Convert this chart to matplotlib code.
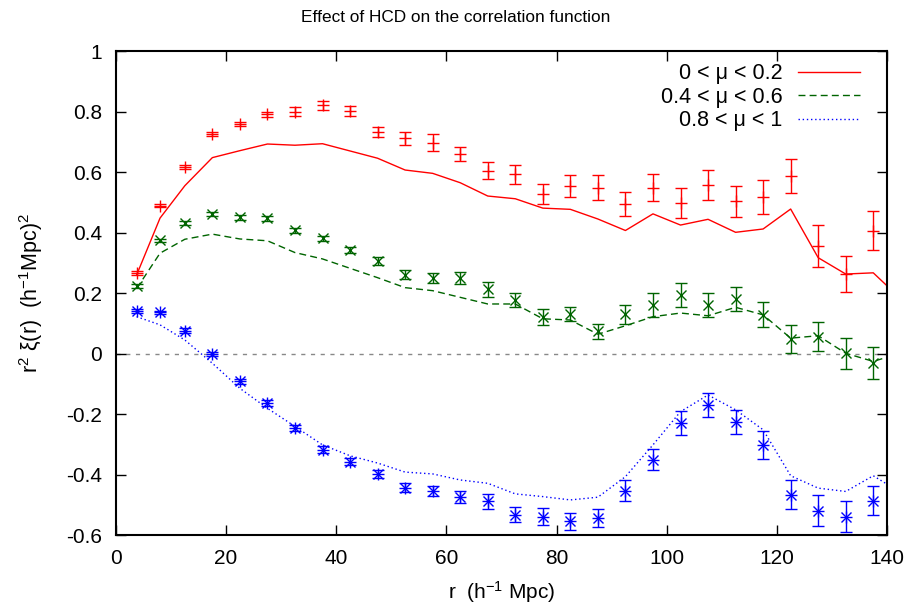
import matplotlib
matplotlib.use("Agg")
import matplotlib.pyplot as plt
import numpy as np

plt.rcParams['font.family'] = ['Liberation Sans', 'DejaVu Sans']
plt.rcParams['mathtext.fontset'] = 'custom'
plt.rcParams['mathtext.rm'] = 'Liberation Sans'
plt.rcParams['mathtext.it'] = 'Liberation Sans'

r_pts = [3.75, 8, 12.5, 17.5, 22.5, 27.5, 32.5, 37.5, 42.5, 47.5, 52.5, 57.5, 62.5, 67.5,
         72.5, 77.5, 82.5, 87.5, 92.5, 97.5, 102.5, 107.5, 112.5, 117.5, 122.5, 127.5, 132.5, 137.5]
r_model = r_pts + [142.5]

# 0 < mu < 0.2
red_y = [0.267, 0.489, 0.617, 0.726, 0.760, 0.791, 0.800, 0.821, 0.801, 0.732, 0.712, 0.698,
         0.659, 0.605, 0.593, 0.529, 0.555, 0.549, 0.494, 0.549, 0.499, 0.558, 0.503, 0.519,
         0.586, 0.356, 0.262, 0.406]
red_err = [0.006, 0.005, 0.006, 0.007, 0.007, 0.008, 0.015, 0.015, 0.017, 0.017, 0.022, 0.027,
           0.023, 0.029, 0.031, 0.033, 0.036, 0.042, 0.039, 0.045, 0.05, 0.05, 0.051, 0.056,
           0.056, 0.069, 0.06, 0.065]
red_model = [0.26, 0.448, 0.555, 0.648, 0.671, 0.693, 0.689, 0.694, 0.670, 0.646, 0.607, 0.596,
             0.565, 0.521, 0.512, 0.481, 0.477, 0.445, 0.407, 0.462, 0.425, 0.444, 0.401, 0.412,
             0.478, 0.317, 0.263, 0.267, 0.181]

# 0.4 < mu < 0.6
green_y = [0.224, 0.374, 0.431, 0.461, 0.450, 0.448, 0.407, 0.381, 0.342, 0.306, 0.260, 0.249,
           0.249, 0.213, 0.178, 0.120, 0.131, 0.073, 0.130, 0.161, 0.194, 0.161, 0.180, 0.128,
           0.048, 0.056, 0.001, -0.030]
green_err = [0.006, 0.006, 0.006, 0.007, 0.007, 0.008, 0.009, 0.009, 0.01, 0.012, 0.015, 0.017,
             0.02, 0.025, 0.023, 0.026, 0.024, 0.026, 0.031, 0.039, 0.041, 0.039, 0.04, 0.041,
             0.046, 0.047, 0.051, 0.053]
green_model = [0.215, 0.332, 0.378, 0.395, 0.379, 0.373, 0.334, 0.313, 0.282, 0.251, 0.218, 0.208,
               0.186, 0.164, 0.164, 0.115, 0.111, 0.064, 0.092, 0.122, 0.134, 0.125, 0.153, 0.128,
               0.051, 0.059, 0.001, -0.026, 0.002]

# 0.8 < mu < 1
blue_y = [0.141, 0.136, 0.076, -0.002, -0.092, -0.164, -0.245, -0.318, -0.357, -0.398, -0.443,
          -0.454, -0.473, -0.489, -0.533, -0.539, -0.555, -0.544, -0.453, -0.351, -0.230, -0.170,
          -0.225, -0.302, -0.467, -0.519, -0.539, -0.486]
blue_err = [0.006, 0.006, 0.007, 0.007, 0.008, 0.009, 0.01, 0.011, 0.012, 0.013, 0.015, 0.017,
            0.02, 0.026, 0.024, 0.028, 0.029, 0.031, 0.036, 0.034, 0.039, 0.04, 0.04, 0.047,
            0.048, 0.051, 0.051, 0.047]
blue_model = [0.122, 0.095, 0.045, -0.032, -0.115, -0.181, -0.241, -0.302, -0.338, -0.362, -0.392,
              -0.398, -0.418, -0.429, -0.464, -0.473, -0.484, -0.475, -0.407, -0.302, -0.192,
              -0.137, -0.186, -0.252, -0.404, -0.445, -0.456, -0.404, -0.46]

labels = ["0 < \u03bc < 0.2", "0.4 < \u03bc < 0.6", "0.8 < \u03bc < 1"]
xticks = [0, 20, 40, 60, 80, 100, 120, 140]
yticks = [-0.6, -0.4, -0.2, 0, 0.2, 0.4, 0.6, 0.8, 1]

RED = '#ff0000'
GREEN = '#006400'
BLUE = '#0000ff'

fig = plt.figure(figsize=(9.11, 6.05), dpi=100)
ax = fig.add_axes([0.1273, 0.1157, 0.8464, 0.7997])

ax.axhline(0, color='#888888', lw=1.0, ls=(0, (3, 4)), zorder=1)

ax.plot(r_model, red_model, color=RED, lw=1.0, ls='-', label=labels[0])
ax.plot(r_model, green_model, color=GREEN, lw=1.0, ls=(0, (5, 3)), label=labels[1])
ax.plot(r_model, blue_model, color=BLUE, lw=1.0, ls=(0, (1, 2)), label=labels[2])

eb = dict(lw=1.0, capsize=4.5, capthick=1.0, ls='none', elinewidth=1.0, markersize=8,
          markeredgewidth=1.0)
ax.errorbar(r_pts, red_y, yerr=red_err, color=RED, marker='+', **eb)
ax.errorbar(r_pts, green_y, yerr=green_err, color=GREEN, marker='x', markersize=7,
            lw=1.0, capsize=4.5, capthick=1.0, ls='none', elinewidth=1.0, markeredgewidth=1.0)
ax.errorbar(r_pts, blue_y, yerr=blue_err, color=BLUE, marker='+', **eb)
ax.plot(r_pts, blue_y, color=BLUE, marker='x', ls='none', markersize=6.5, markeredgewidth=1.0)

ax.set_xlim(0, 140)
ax.set_ylim(-0.6, 1.0)
ax.set_xticks(xticks)
ax.set_xticklabels([str(t) for t in xticks])
ax.set_yticks(yticks)
ax.set_yticklabels([('%g' % t) for t in yticks])
ax.tick_params(direction='in', length=7, width=1.0, top=True, right=True, labelsize=15)
ax.tick_params(axis='x', pad=10)
ax.tick_params(axis='y', pad=10)
for s in ax.spines.values():
    s.set_linewidth(1.5)

ax.set_xlabel("r  (h$^{-1}$ Mpc)", fontsize=15, labelpad=8)
ax.set_ylabel("r$^{2}$ \u03be(r)  (h$^{-1}$Mpc)$^{2}$", fontsize=15.5, labelpad=15)
fig.suptitle("Effect of HCD on the correlation function", fontsize=12.4, x=0.5, y=0.971,
             va='center')

handles, labs = ax.get_legend_handles_labels()
ax.legend(handles[:3], labs[:3], loc='upper right', frameon=False, markerfirst=False,
          fontsize=15.5, handlelength=2.9, handletextpad=0.7, labelspacing=0.12,
          borderpad=0, borderaxespad=0, bbox_to_anchor=(0.965, 0.975))

fig.savefig("out.png", dpi=100)
